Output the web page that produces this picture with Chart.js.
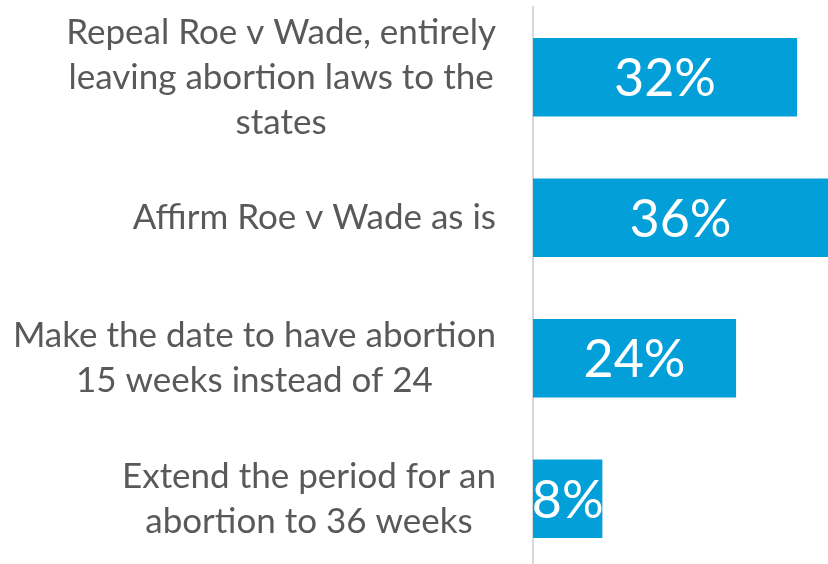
<!DOCTYPE html>
<html>
<head>
<meta charset="utf-8">
<script src="https://cdn.jsdelivr.net/npm/chart.js@4"></script>
<style>
html,body{margin:0;padding:0;background:#fff;overflow:hidden;}
#wrap{width:828px;height:572px;position:relative;}
</style>
</head>
<body>
<div id="wrap"><canvas id="c"></canvas></div>
<script>
const categories = [
  ["Repeal Roe v Wade, entirely", "leaving abortion laws to the", "states"],
  ["Affirm Roe v Wade as is"],
  ["Make the date to have abortion", "15 weeks instead of 24"],
  ["Extend the period for an", "abortion to 36 weeks"]
];
const values = [31.6, 36.0, 24.3, 8.3];
const xMax = 35.3;

const LABEL_FONT = "35px Lato";
const LABEL_COLOR = "#595959";
const LINE_H = 45;
const LABEL_RIGHT = 496;

const categoryLabels = {
  id: 'categoryLabels',
  afterDraw(chart) {
    const ctx = chart.ctx;
    const y = chart.scales.y;
    ctx.save();
    ctx.font = LABEL_FONT;
    ctx.fillStyle = LABEL_COLOR;
    ctx.textAlign = 'center';
    ctx.textBaseline = 'middle';
    categories.forEach((lines, i) => {
      const cy = y.getPixelForTick(i);
      const w = Math.max(...lines.map(l => ctx.measureText(l).width));
      const cx = LABEL_RIGHT - w / 2;
      const top = cy - (lines.length - 1) * LINE_H / 2;
      lines.forEach((l, k) => ctx.fillText(l, cx, top + k * LINE_H));
    });
    ctx.restore();
  }
};

const valueLabels = {
  id: 'valueLabels',
  afterDatasetsDraw(chart) {
    const ctx = chart.ctx;
    const meta = chart.getDatasetMeta(0);
    ctx.save();
    ctx.font = "52px Lato";
    ctx.fillStyle = "#ffffff";
    ctx.textAlign = 'center';
    ctx.textBaseline = 'middle';
    meta.data.forEach((bar, i) => {
      const right = Math.min(bar.x, chart.chartArea.right);
      const cx = (bar.base + right) / 2;
      ctx.fillText(Math.round(values[i]) + "%", cx, bar.y + 2);
    });
    ctx.restore();
  }
};

new Chart(document.getElementById('c'), {
  type: 'bar',
  data: {
    labels: categories,
    datasets: [{
      data: values,
      backgroundColor: '#029FD9',
      borderWidth: 0,
      categoryPercentage: 1,
      barPercentage: 0.56
    }]
  },
  options: {
    indexAxis: 'y',
    responsive: true,
    maintainAspectRatio: false,
    animation: false,
    layout: { padding: { top: 7, right: 0, bottom: 3, left: 0 } },
    plugins: { legend: { display: false }, tooltip: { enabled: false } },
    scales: {
      x: { display: false, min: 0, max: xMax, grid: { display: false } },
      y: {
        grid: { display: false, drawTicks: false },
        border: { display: true, color: '#d9d9d9', width: 2 },
        ticks: { display: false },
        afterFit(s) { s.width = 533; }
      }
    }
  },
  plugins: [categoryLabels, valueLabels]
});
</script>
</body>
</html>
